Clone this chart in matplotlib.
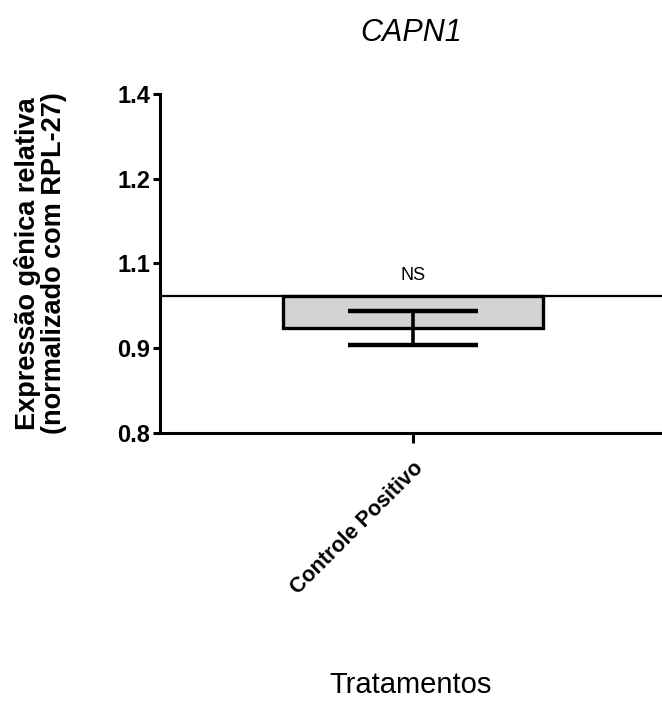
import matplotlib
matplotlib.use('Agg')
import matplotlib.pyplot as plt

# Dados
categorias = ['Controle Positivo']
media = [0.985]
desvio = [0.030]
linha_base = 1.042
y_ticks = [0.8, 0.95, 1.1, 1.25, 1.4]
y_rotulos = ['0.8', '0.9', '1.1', '1.2', '1.4']

plt.rcParams['font.family'] = ['Liberation Sans', 'DejaVu Sans']

fig = plt.figure(figsize=(6.62, 7.11), dpi=100)
ax = fig.add_axes([0.2417, 0.391, 0.7583, 0.477])

x = list(range(len(categorias)))
alturas = [m - linha_base for m in media]

# Linha de referência
ax.axhline(linha_base, color='black', linewidth=1.6, zorder=1)

ax.bar(x, alturas, bottom=linha_base, width=1.0, color='#d3d3d3',
       edgecolor='black', linewidth=2.4, zorder=2)
ax.errorbar(x, media, yerr=desvio, fmt='none', ecolor='black',
            elinewidth=2.6, capsize=47, capthick=3.2, zorder=3)

ax.text(x[0], linha_base + 0.022, 'NS', ha='center', va='bottom', fontsize=13)

ax.set_xlim(-0.973, 0.958)
ax.set_ylim(0.8, 1.4)
ax.set_yticks(y_ticks)
ax.set_yticklabels(y_rotulos, fontsize=17, fontweight='bold')
ax.set_xticks(x)
ax.set_xticklabels(categorias, rotation=45, ha='right', rotation_mode='anchor',
                   fontsize=15.5, fontweight='bold')

for lado in ['top', 'right']:
    ax.spines[lado].set_visible(False)
for lado in ['left', 'bottom']:
    ax.spines[lado].set_linewidth(2.2)
ax.tick_params(axis='y', length=5, width=2.2, pad=2)
ax.tick_params(axis='x', length=7, width=2.2, pad=11)

ax.set_ylabel('Expressão gênica relativa\n(normalizado com RPL-27)',
              fontsize=19.5, fontweight='bold', labelpad=36, linespacing=1.0)
ax.set_xlabel('Tratamentos', fontsize=21, va='center')
ax.xaxis.set_label_coords(0.5, -0.743)
ax.set_title('CAPN1', fontsize=22, fontstyle='italic', pad=38)

fig.savefig('out.png', dpi=100, facecolor='white')
